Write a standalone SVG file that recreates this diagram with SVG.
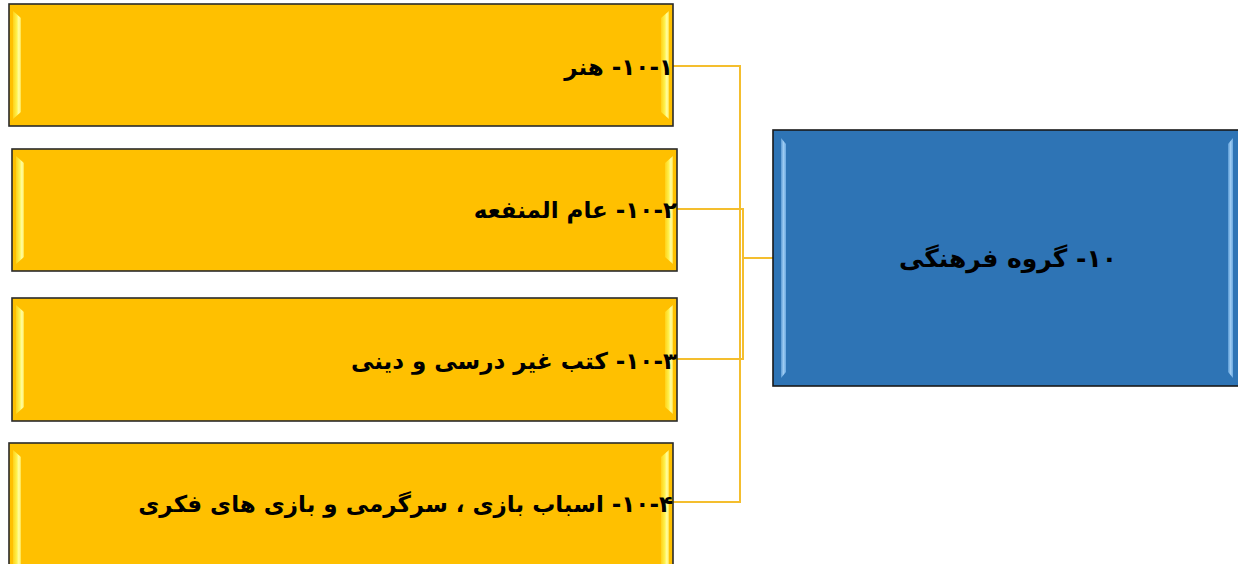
<svg xmlns="http://www.w3.org/2000/svg" width="1238" height="564" viewBox="0 0 1238 564">
<defs>
<style>
.yb{fill:#FFC000;stroke:#2a2a2a;stroke-width:1.6}
.bb{fill:#2E74B5;stroke:#1a1a1a;stroke-width:1.6}
.ybev{fill:url(#gy)}
.bbev{fill:url(#gb)}
.lbl{font-family:"DejaVu Sans",sans-serif;font-weight:bold;font-size:23px;fill:#000;direction:rtl}
.con{fill:none;stroke:#F4BE2E;stroke-width:2}
</style>
<linearGradient id="gy" x1="0" y1="0" x2="1" y2="0">
<stop offset="0" stop-color="#FFD21A"/>
<stop offset="0.45" stop-color="#FFF04A"/>
<stop offset="0.75" stop-color="#FFFFA8"/>
<stop offset="1" stop-color="#FFE040"/>
</linearGradient>
<linearGradient id="gb" x1="0" y1="0" x2="1" y2="0">
<stop offset="0" stop-color="#5B9BD5"/>
<stop offset="0.5" stop-color="#9DCBF2"/>
<stop offset="1" stop-color="#6AA8E0"/>
</linearGradient>
</defs>
<g id="connectors">
<polyline class="con" points="673,66 740,66 740,502 673,502"/>
<polyline class="con" points="677,209 743,209 743,359 677,359"/>
<line class="con" x1="743" y1="258" x2="773" y2="258"/>
</g>
<g id="n1">
<rect class="yb" x="9" y="4" width="664" height="122"/>
<path class="ybev" d="M13,11 L21,18 L21,112 L13,119 Z"/>
<path class="ybev" d="M669,11 L661,18 L661,112 L669,119 Z"/>
<text class="lbl" x="673" y="75" direction="rtl" text-anchor="start">۱۰-۱- هنر</text>
</g>
<g id="n2">
<rect class="yb" x="12" y="149" width="665" height="122"/>
<path class="ybev" d="M16,156 L24,163 L24,257 L16,264 Z"/>
<path class="ybev" d="M673,156 L665,163 L665,257 L673,264 Z"/>
<text class="lbl" x="677" y="218" direction="rtl" text-anchor="start">۱۰-۲- عام المنفعه</text>
</g>
<g id="n3">
<rect class="yb" x="12" y="298" width="665" height="123"/>
<path class="ybev" d="M16,305 L24,312 L24,407 L16,414 Z"/>
<path class="ybev" d="M673,305 L665,312 L665,407 L673,414 Z"/>
<text class="lbl" x="677" y="369" direction="rtl" text-anchor="start">۱۰-۳- کتب غیر درسی و دینی</text>
</g>
<g id="n4">
<rect class="yb" x="9" y="443" width="664" height="130"/>
<path class="ybev" d="M13,450 L21,457 L21,570 L13,570 Z"/>
<path class="ybev" d="M669,450 L661,457 L661,570 L669,570 Z"/>
<text class="lbl" x="673" y="512" direction="rtl" text-anchor="start">۱۰-۴- اسباب بازی ، سرگرمی و بازی های فکری</text>
</g>
<g id="n0">
<rect class="bb" x="773" y="130" width="470" height="256"/>
<path class="bbev" d="M781,138 L786,144 L786,372 L781,378 Z"/>
<path class="bbev" d="M1233,138 L1228,144 L1228,372 L1233,378 Z"/>
<text class="lbl" x="1117" y="267" direction="rtl" text-anchor="start" style="font-size:25px">۱۰- گروه فرهنگی</text>
</g>
</svg>
